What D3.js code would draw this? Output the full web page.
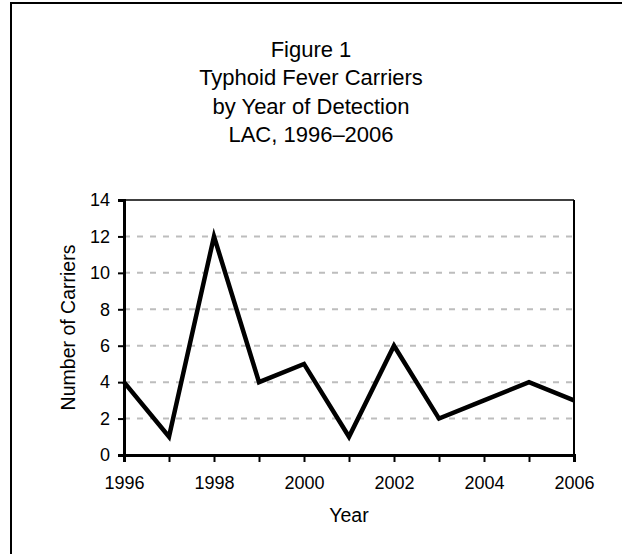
<!DOCTYPE html>
<html>
<head>
<meta charset="utf-8">
<script src="https://cdn.jsdelivr.net/npm/d3@7"></script>
<style>
  html, body { margin: 0; padding: 0; background: #fff; }
  svg { display: block; }
  text { font-family: "Liberation Sans", Arial, sans-serif; fill: #000; }
</style>
</head>
<body>
<script>
const years = [1996, 1997, 1998, 1999, 2000, 2001, 2002, 2003, 2004, 2005, 2006];
const carriers = [4, 1, 12, 4, 5, 1, 6, 2, 3, 4, 3];
const yTicks = [0, 2, 4, 6, 8, 10, 12, 14];
const xTickLabels = [1996, 1998, 2000, 2002, 2004, 2006];
const titleLines = ["Figure 1", "Typhoid Fever Carriers", "by Year of Detection", "LAC, 1996\u20132006"];
const xTitle = "Year";
const yTitle = "Number of Carriers";

const W = 622, H = 554;
const plot = { left: 124, right: 574, top: 200, bottom: 455 };

const svg = d3.select("body").append("svg").attr("width", W).attr("height", H);

// outer frame (left and top edges visible)
svg.append("path")
  .attr("d", `M11,${H + 5} L11,3 L${W + 5},3`)
  .attr("fill", "none").attr("stroke", "#000").attr("stroke-width", 2);

// title
const title = svg.append("g");
titleLines.forEach((t, i) => {
  title.append("text")
    .attr("x", 311).attr("y", 57 + i * 28.3)
    .attr("text-anchor", "middle")
    .style("font-size", "22px")
    .text(t);
});

const x = d3.scaleLinear().domain([1996, 2006]).range([plot.left, plot.right]);
const y = d3.scaleLinear().domain([0, 14]).range([plot.bottom, plot.top]);

// gridlines
svg.append("g").selectAll("line")
  .data(yTicks.filter(v => v > 0 && v < 14))
  .join("line")
  .attr("x1", plot.left).attr("x2", plot.right)
  .attr("y1", d => y(d)).attr("y2", d => y(d))
  .attr("stroke", "#bdbdbd").attr("stroke-width", 2)
  .attr("stroke-dasharray", "6,7");

// top & right frame of plot area
svg.append("line")
  .attr("x1", plot.left).attr("x2", plot.right)
  .attr("y1", y(14)).attr("y2", y(14))
  .attr("stroke", "#000").attr("stroke-width", 1.5);
svg.append("line")
  .attr("x1", plot.right).attr("x2", plot.right)
  .attr("y1", y(14)).attr("y2", y(0))
  .attr("stroke", "#000").attr("stroke-width", 2);

// y axis
const yAxis = d3.axisLeft(y).tickValues(yTicks).tickSize(6).tickPadding(8).tickFormat(d3.format("d"));
const gy = svg.append("g").attr("transform", `translate(${plot.left},0)`).call(yAxis);
gy.select(".domain").attr("stroke", "#000").attr("stroke-width", 3);
gy.selectAll(".tick line").attr("stroke", "#000").attr("stroke-width", 2);
gy.selectAll(".tick text").style("font-size", "18px").attr("font-family", null);

// x axis
const xAxis = d3.axisBottom(x).tickValues(years).tickSize(7).tickPadding(14)
  .tickFormat(d => xTickLabels.includes(d) ? String(d) : "");
const gx = svg.append("g").attr("transform", `translate(0,${plot.bottom})`).call(xAxis);
gx.select(".domain").attr("stroke", "#000").attr("stroke-width", 3);
gx.selectAll(".tick line").attr("stroke", "#000").attr("stroke-width", 2);
gx.selectAll(".tick text").style("font-size", "18px").attr("font-family", null);

// line
const line = d3.line().x((d, i) => x(years[i])).y(d => y(d));
svg.append("path")
  .datum(carriers)
  .attr("d", line)
  .attr("fill", "none").attr("stroke", "#000").attr("stroke-width", 4.5)
  .attr("stroke-linejoin", "miter");

// axis titles
svg.append("text")
  .attr("x", (plot.left + plot.right) / 2).attr("y", 522)
  .attr("text-anchor", "middle").style("font-size", "19.5px")
  .text(xTitle);
svg.append("text")
  .attr("transform", `translate(75,${(plot.top + plot.bottom) / 2}) rotate(-90)`)
  .attr("text-anchor", "middle").style("font-size", "19.5px")
  .text(yTitle);
</script>
</body>
</html>
